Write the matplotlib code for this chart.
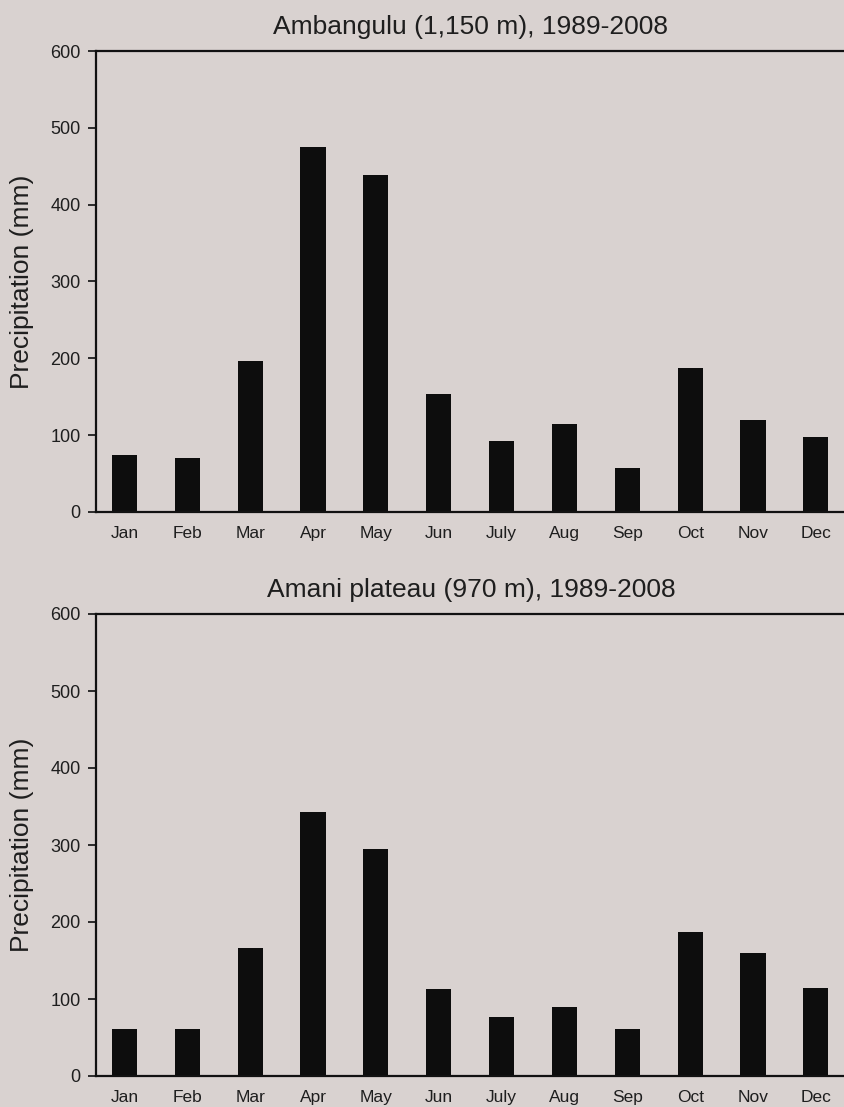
import matplotlib
matplotlib.use("Agg")
import matplotlib.pyplot as plt
import numpy as np

# ── Data ──────────────────────────────────────────────────────────────────────
months = ["Jan", "Feb", "Mar", "Apr", "May", "Jun",
          "July", "Aug", "Sep", "Oct", "Nov", "Dec"]
ambangulu = [74, 70, 197, 475, 439, 154, 93, 115, 57, 187, 120, 97]
amani     = [61, 61, 166, 343, 295, 113, 77, 90, 61, 187, 160, 114]
titles = ["Ambangulu (1,150 m), 1989-2008", "Amani plateau (970 m), 1989-2008"]
yticks = [0, 100, 200, 300, 400, 500, 600]

BG   = "#d9d2d0"
INK  = "#1e1e1e"
plt.rcParams["font.family"] = ["Liberation Sans", "DejaVu Sans"]

W, H = 845, 1107
fig = plt.figure(figsize=(W / 100, H / 100), dpi=100, facecolor=BG)

# axes boxes in pixels: (left, top, right, bottom)
boxes = [(96, 51, 846, 512), (96, 614, 846, 1076)]

x = np.arange(len(months))
for (l, t, r, b), vals, title in zip(boxes, [ambangulu, amani], titles):
    ax = fig.add_axes([l / W, 1 - b / H, (r - l) / W, (b - t) / H])
    ax.set_facecolor(BG)
    ax.bar(x, vals, width=0.4, color="#0d0d0d", zorder=2)
    ax.set_xlim(-0.454, 11.48)
    ax.set_ylim(0, 600)
    ax.set_yticks(yticks)
    ax.set_xticks(x)
    ax.set_xticklabels(months)
    ax.tick_params(axis="x", length=0, pad=10, labelsize=12.5, labelcolor=INK)
    ax.tick_params(axis="y", direction="out", length=6, width=1.3, pad=5,
                   labelsize=13, labelcolor=INK, color=INK)
    for side in ["left", "top", "bottom"]:
        ax.spines[side].set_linewidth(1.6)
        ax.spines[side].set_color("#111111")
    ax.spines["right"].set_visible(False)
    ax.set_ylabel("Precipitation (mm)", fontsize=19, color=INK, labelpad=12)
    ax.set_title(title, fontsize=19, color=INK, pad=12)

fig.savefig("out.png", dpi=100, facecolor=BG)
